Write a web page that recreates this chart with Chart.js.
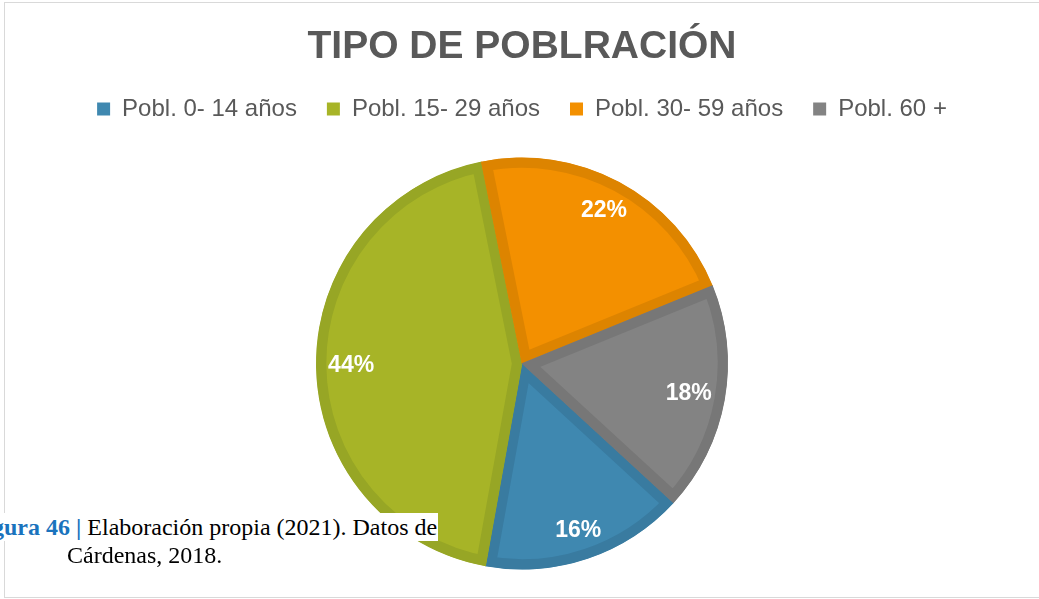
<!DOCTYPE html>
<html lang="es">
<head>
<meta charset="utf-8">
<title>Tipo de población</title>
<script src="https://cdn.jsdelivr.net/npm/chart.js@4.4.1/dist/chart.umd.min.js"></script>
<style>
  html, body { margin: 0; padding: 0; background: #fff; overflow: hidden; }
  body { width: 1039px; height: 599px; position: relative; }
  #frame {
    position: absolute; left: 4px; top: 2px;
    width: 1034px; height: 594px;
    border: 1px solid #d9d9d9; border-right: none;
  }
  #frame canvas { display: block; }
  .caption {
    position: absolute; font-family: "Liberation Serif", "Times New Roman", serif;
    font-size: 24px; line-height: 28px; color: #000; white-space: nowrap;
  }
  #cap1 { left: -8px; top: 513px; background: #fff; padding-right: 1px; }
  #cap1 b { color: #1a73bd; }
  #cap2 { left: 67px; top: 541px; }
</style>
</head>
<body>
<div id="frame"><canvas id="pie" width="1034" height="594"></canvas></div>
<div class="caption" id="cap1"><b>gura 46 |</b> Elaboración propia (2021). Datos de</div>
<div class="caption" id="cap2">Cárdenas, 2018.</div>
<script>
// datos
const categories = ['Pobl. 0- 14 años', 'Pobl. 15- 29 años', 'Pobl. 30- 59 años', 'Pobl. 60 +'];
const shares = [16, 44, 22, 18];
const fillColors = ['#3f88b0', '#a7b427', '#f39000', '#838383'];
const edgeColors = ['#397ba0', '#97a625', '#dd8400', '#777777'];

// etiquetas de porcentaje dentro de cada sector
const sliceLabels = {
    id: 'sliceLabels',
    afterDatasetsDraw(chart) {
        const ctx = chart.ctx;
        const meta = chart.getDatasetMeta(0);
        const total = shares.reduce((a, b) => a + b, 0);
        ctx.save();
        ctx.font = 'bold 23px "Liberation Sans", Arial, sans-serif';
        ctx.fillStyle = '#ffffff';
        ctx.textAlign = 'center';
        ctx.textBaseline = 'middle';
        meta.data.forEach((arc, i) => {
            const { x, y, startAngle, endAngle, outerRadius } = arc.getProps(['x', 'y', 'startAngle', 'endAngle', 'outerRadius'], true);
            const mid = (startAngle + endAngle) / 2;
            const ux = Math.cos(mid), uy = Math.sin(mid);
            const reach = Math.abs(ux) * 23 + Math.abs(uy) * 11;
            const d = outerRadius - 12 - reach;
            ctx.fillText(Math.round(shares[i] / total * 100) + '%', x + ux * d, y + uy * d);
        });
        ctx.restore();
    }
};

new Chart(document.getElementById('pie'), {
    type: 'pie',
    data: {
        labels: categories,
        datasets: [{
            data: shares,
            backgroundColor: fillColors,
            borderColor: edgeColors,
            borderWidth: 10,
            borderAlign: 'inner',
            borderJoinStyle: 'miter',
            hoverOffset: 0
        }]
    },
    options: {
        responsive: false,
        animation: false,
        rotation: 132.6,
        radius: 206,
        layout: { padding: { top: 0, bottom: 1, left: 0, right: 0 } },
        plugins: {
            title: {
                display: true,
                text: 'TIPO DE POBLRACIÓN',
                color: '#595959',
                font: { family: '"Liberation Sans", Arial, sans-serif', size: 39, weight: 'bold', lineHeight: 1 },
                padding: { top: 25, bottom: 0 }
            },
            legend: {
                display: true,
                position: 'top',
                labels: {
                    color: '#595959',
                    font: { family: '"Liberation Sans", Arial, sans-serif', size: 24 },
                    boxWidth: 13,
                    boxHeight: 13,
                    padding: 30,
                    generateLabels: () => categories.map((text, i) => ({
                        text,
                        fillStyle: fillColors[i],
                        strokeStyle: fillColors[i],
                        fontColor: '#595959',
                        lineWidth: 0,
                        hidden: false,
                        index: i
                    }))
                }
            },
            tooltip: { enabled: false }
        }
    },
    plugins: [sliceLabels]
});
</script>
</body>
</html>
